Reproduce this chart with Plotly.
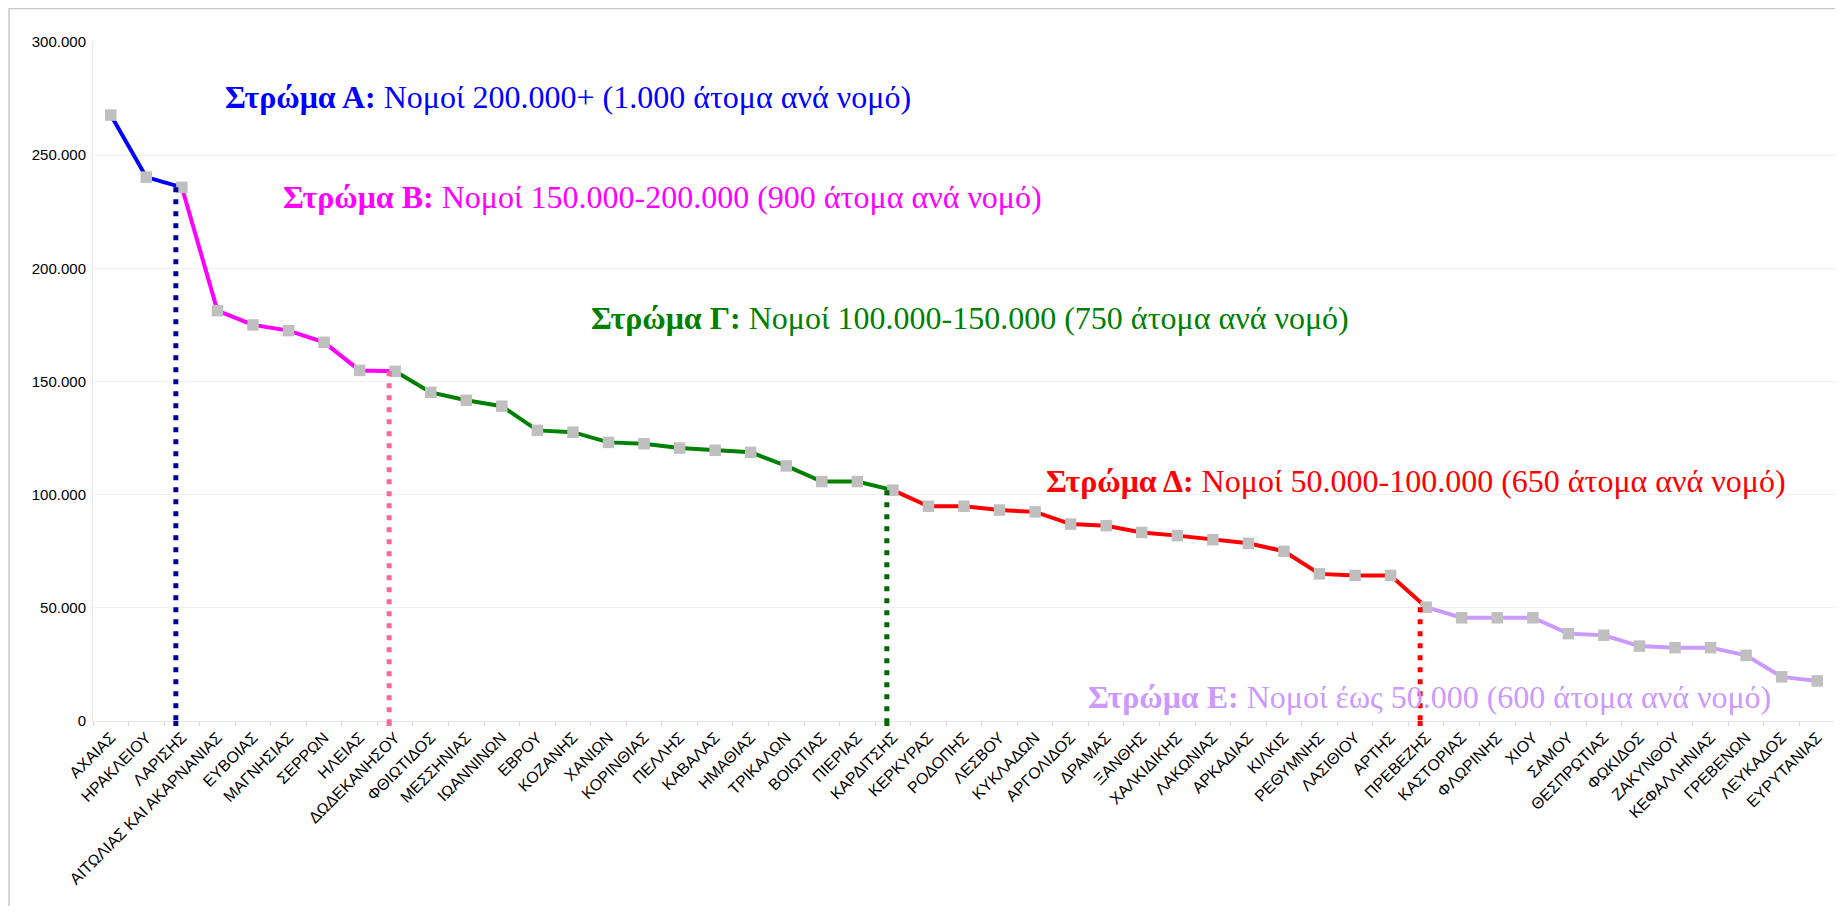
import plotly.graph_objects as go

# Νομοί ταξινομημένοι κατά πληθυσμό
nomoi = [
    "ΑΧΑΙΑΣ", "ΗΡΑΚΛΕΙΟΥ", "ΛΑΡΙΣΗΣ", "ΑΙΤΩΛΙΑΣ ΚΑΙ ΑΚΑΡΝΑΝΙΑΣ", "ΕΥΒΟΙΑΣ",
    "ΜΑΓΝΗΣΙΑΣ", "ΣΕΡΡΩΝ", "ΗΛΕΙΑΣ", "ΔΩΔΕΚΑΝΗΣΟΥ", "ΦΘΙΩΤΙΔΟΣ",
    "ΜΕΣΣΗΝΙΑΣ", "ΙΩΑΝΝΙΝΩΝ", "ΕΒΡΟΥ", "ΚΟΖΑΝΗΣ", "ΧΑΝΙΩΝ",
    "ΚΟΡΙΝΘΙΑΣ", "ΠΕΛΛΗΣ", "ΚΑΒΑΛΑΣ", "ΗΜΑΘΙΑΣ", "ΤΡΙΚΑΛΩΝ",
    "ΒΟΙΩΤΙΑΣ", "ΠΙΕΡΙΑΣ", "ΚΑΡΔΙΤΣΗΣ", "ΚΕΡΚΥΡΑΣ", "ΡΟΔΟΠΗΣ",
    "ΛΕΣΒΟΥ", "ΚΥΚΛΑΔΩΝ", "ΑΡΓΟΛΙΔΟΣ", "ΔΡΑΜΑΣ", "ΞΑΝΘΗΣ",
    "ΧΑΛΚΙΔΙΚΗΣ", "ΛΑΚΩΝΙΑΣ", "ΑΡΚΑΔΙΑΣ", "ΚΙΛΚΙΣ", "ΡΕΘΥΜΝΗΣ",
    "ΛΑΣΙΘΙΟΥ", "ΑΡΤΗΣ", "ΠΡΕΒΕΖΗΣ", "ΚΑΣΤΟΡΙΑΣ", "ΦΛΩΡΙΝΗΣ",
    "ΧΙΟΥ", "ΣΑΜΟΥ", "ΘΕΣΠΡΩΤΙΑΣ", "ΦΩΚΙΔΟΣ", "ΖΑΚΥΝΘΟΥ",
    "ΚΕΦΑΛΛΗΝΙΑΣ", "ΓΡΕΒΕΝΩΝ", "ΛΕΥΚΑΔΟΣ", "ΕΥΡΥΤΑΝΙΑΣ",
]

plithysmos = [
    267700, 240300, 235800, 181300, 175000,
    172500, 167300, 154900, 154500, 145200,
    141700, 139100, 128400, 127600, 123100,
    122500, 120600, 119600, 118700, 112700,
    105800, 105800, 102000, 94900, 94900,
    93200, 92400, 87000, 86300, 83300,
    81900, 80100, 78500, 75000, 65000,
    64300, 64300, 50300, 45600, 45600,
    45600, 38600, 37900, 33100, 32400,
    32400, 29000, 19500, 17700,
]

# στρώματα: ο τελευταίος νομός κάθε στρώματος (όριο)
orio_stromatos = ["ΑΧΑΙΑΣ", "ΛΑΡΙΣΗΣ", "ΔΩΔΕΚΑΝΗΣΟΥ", "ΚΑΡΔΙΤΣΗΣ", "ΠΡΕΒΕΖΗΣ", "ΕΥΡΥΤΑΝΙΑΣ"]
xromata_grammis = ["#0000FF", "#FF00FF", "#008000", "#FF0000", "#CC99FF"]
xromata_orion = ["#000099", "#FF6699", "#006600", "#FF0000"]

stromata = ["Στρώμα Α:", "Στρώμα Β:", "Στρώμα Γ:", "Στρώμα Δ:", "Στρώμα Ε:"]
perigrafes = [
    "Νομοί 200.000+ (1.000 άτομα ανά νομό)",
    "Νομοί 150.000-200.000 (900 άτομα ανά νομό)",
    "Νομοί 100.000-150.000 (750 άτομα ανά νομό)",
    "Νομοί 50.000-100.000 (650 άτομα ανά νομό)",
    "Νομοί έως 50.000 (600 άτομα ανά νομό)",
]


fig = go.Figure()

# ----------------------------------------------------
# χρωματιστά τμήματα της γραμμής
for i, color in enumerate(xromata_grammis):
    a = nomoi.index(orio_stromatos[i])
    b = nomoi.index(orio_stromatos[i + 1])
    fig.add_trace(go.Scatter(
        x=nomoi[a:b + 1],
        y=plithysmos[a:b + 1],
        mode="lines",
        line=dict(color=color, width=4),
        hoverinfo="skip",
    ))

# γκρι τετράγωνα
fig.add_trace(go.Scatter(
    x=nomoi,
    y=plithysmos,
    mode="markers",
    marker=dict(symbol="square", size=11.5, color="#BFBFBF"),
))

# κάθετες διακεκομμένες στα όρια
for nomos, color in zip(orio_stromatos[1:5], xromata_orion):
    val = plithysmos[nomoi.index(nomos)]
    line_style = dict(color=color, width=5, dash="5px,7px")
    fig.add_shape(type="line", xref="x", yref="y",
                  x0=nomos, x1=nomos, x0shift=-0.17, x1shift=-0.17,
                  y0=val, y1=0, line=line_style, layer="above")
    fig.add_shape(type="line", xref="x", yref="y domain",
                  x0=nomos, x1=nomos, x0shift=-0.17, x1shift=-0.17,
                  y0=0, y1=-0.012, line=line_style, layer="above")

# ----------------------------------------------------
# ετικέτες στρωμάτων
thesis = [(0.0748, 0.919), (0.1077, 0.771), (0.2847, 0.594), (0.5457, 0.353), (0.5699, 0.035)]
for (tx, ty), title, desc, color in zip(thesis, stromata, perigrafes, xromata_grammis):
    fig.add_annotation(
        x=tx, y=ty, xref="paper", yref="paper",
        xanchor="left", yanchor="middle",
        text=f"<b>{title}</b> {desc}",
        showarrow=False,
        font=dict(family="Liberation Serif, Times New Roman, serif", size=32, color=color),
    )

# πλαίσιο γραφήματος
fig.add_shape(type="line", xref="paper", yref="paper",
              x0=-0.0482, x1=1.01, y0=1.0496, y1=1.0496,
              line=dict(color="#C8C8C8", width=2))
fig.add_shape(type="line", xref="paper", yref="paper",
              x0=-0.0482, x1=-0.0482, y0=1.0496, y1=-0.3,
              line=dict(color="#C8C8C8", width=1.5))

fig.update_layout(
    width=1835,
    height=898,
    margin=dict(l=85, r=8, t=34, b=185),
    paper_bgcolor="white",
    plot_bgcolor="white",
    showlegend=False,
    separators=",.",
    font=dict(family="Liberation Sans, Arial, sans-serif", color="black"),
)
fig.update_xaxes(
    type="category",
    range=[-0.5, len(nomoi) - 0.5],
    tickangle=-45,
    tickfont=dict(size=16, color="black"),
    ticks="outside",
    tickson="boundaries",
    ticklen=4,
    tickcolor="#D9D9D9",
    showline=True,
    linecolor="#E6E6E6",
    showgrid=False,
)
fig.update_yaxes(
    range=[0, 300000],
    dtick=50000,
    tickformat=",d",
    tickfont=dict(size=15, color="black"),
    showgrid=True,
    gridcolor="#F0F0F0",
    zeroline=False,
    showline=True,
    linecolor="#E6E6E6",
    ticks="",
    ticklabelstandoff=3,
)

fig.write_html("out.html")
